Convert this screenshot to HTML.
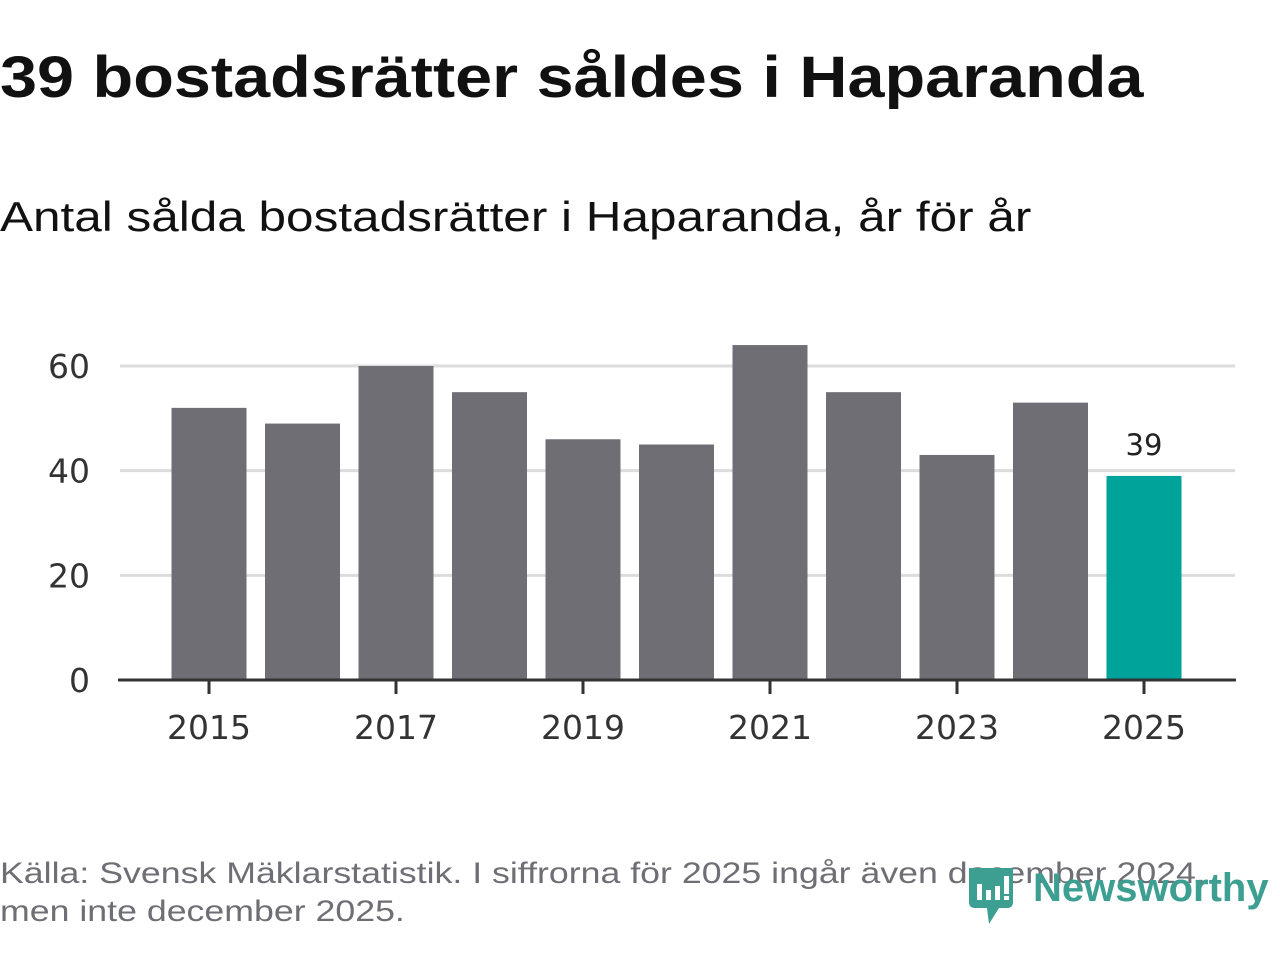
<!DOCTYPE html>
<html><head><meta charset="utf-8"><style>
html,body{margin:0;padding:0;background:#fff;}
body{width:1280px;height:960px;position:relative;overflow:hidden;font-family:"Liberation Sans","DejaVu Sans",sans-serif;}
#title{position:absolute;left:0;top:44px;font-size:58px;font-weight:bold;color:#111;margin:0;white-space:nowrap;transform:scaleX(1.148);transform-origin:0 0;}
#subtitle{position:absolute;left:0;top:193px;font-size:42px;color:#111;white-space:nowrap;transform:scaleX(1.178);transform-origin:0 0;}
#source{position:absolute;left:0;top:855px;font-size:30px;color:#6f6e75;line-height:38px;white-space:nowrap;transform:scaleX(1.19);transform-origin:0 0;}
#logo{position:absolute;left:965px;top:862px;}
#logo-text{position:absolute;left:1033px;top:866px;font-size:40px;font-weight:bold;color:#3d9e92;white-space:nowrap;}
svg text{font-family:"DejaVu Sans","Liberation Sans",sans-serif;}
</style></head><body>
<h1 id="title">39 bostadsrätter såldes i Haparanda</h1>
<div id="subtitle">Antal sålda bostadsrätter i Haparanda, år för år</div>
<svg id="chart" width="1280" height="960" style="position:absolute;left:0;top:0"></svg>
<div id="source">Källa: Svensk Mäklarstatistik. I siffrorna för 2025 ingår även december 2024,<br>men inte december 2025.</div>
<svg id="logo" width="52" height="64" viewBox="0 0 52 64">
<path d="M4 6 H48 V40 Q48 46 42 46 H34 L24 62 L22 46 H10 Q4 46 4 40 Z" fill="#3d9e92"/>
<rect x="12" y="22" width="5" height="16" fill="#fff"/><rect x="21" y="28" width="5" height="10" fill="#fff"/><rect x="30" y="24" width="5" height="14" fill="#fff"/><rect x="39" y="14" width="5" height="18" fill="#fff"/><rect x="39" y="34" width="5" height="4" fill="#fff"/>
</svg>
<div id="logo-text">Newsworthy</div>
<script>
const years=[2015,2016,2017,2018,2019,2020,2021,2022,2023,2024,2025];
const values=[52,49,60,55,46,45,64,55,43,53,39];
const yTicks=[0,20,40,60];
const xTickLabels=[2015,2017,2019,2021,2023,2025];
const NS="http://www.w3.org/2000/svg";
const svg=document.getElementById('chart');
const y0=680, pxPer=314/60;
const yScale=v=>y0-v*pxPer;
const xScale=yr=>209+(yr-2015)*93.5;
const bw=75;
function mk(t,a){const e=document.createElementNS(NS,t);for(const k in a)e.setAttribute(k,a[k]);svg.appendChild(e);return e;}
yTicks.forEach(t=>{
  if(t>0){const g=mk('line',{x1:120,x2:1235,y1:yScale(t),y2:yScale(t),stroke:'#dcdcdc','stroke-width':3});
  
  }
  const l=mk('text',{x:90,y:yScale(t)+12,'text-anchor':'end','font-size':33,fill:'#333'});l.textContent=t;
  
  
});
years.forEach((yr,i)=>{
  const last=i===years.length-1;
  const r=mk('rect',{x:xScale(yr)-bw/2,y:yScale(values[i]),width:bw,height:y0-yScale(values[i]),fill:last?'#00a39a':'#6f6e75'});
  
  
  if(last){const t=mk('text',{x:xScale(yr),y:yScale(values[i])-21,'text-anchor':'middle','font-size':29,fill:'#222'});t.textContent=values[i];
  
  }
});
const ax=mk('line',{x1:118,x2:1236,y1:y0,y2:y0,stroke:'#333','stroke-width':3});


xTickLabels.forEach(yr=>{
  const tk=mk('line',{x1:xScale(yr),x2:xScale(yr),y1:y0,y2:y0+14,stroke:'#333','stroke-width':3});
  
  
  const l=mk('text',{x:xScale(yr),y:739,'text-anchor':'middle','font-size':33,fill:'#333'});l.textContent=yr;
  
  
});
</script>
</body></html>
